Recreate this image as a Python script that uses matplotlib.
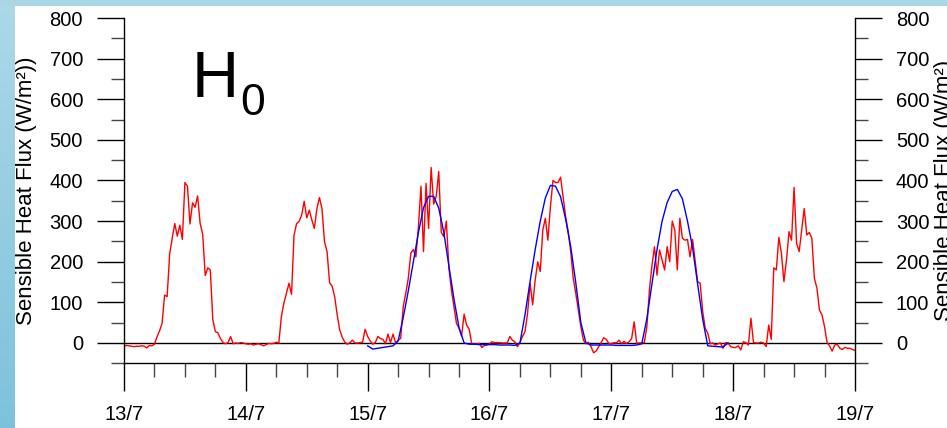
import numpy as np
import matplotlib
matplotlib.use('Agg')
import matplotlib.pyplot as plt
from matplotlib.patches import Rectangle
from matplotlib.ticker import MultipleLocator

plt.rcParams['font.family'] = ['Liberation Sans', 'DejaVu Sans']

# ---------------- data ----------------
day_labels = ['13/7', '14/7', '15/7', '16/7', '17/7', '18/7', '19/7']

# observed sensible heat flux (W/m2), half-hourly, one list per day
obs_13 = [-8, -6, -7, -8, -9, -8, -8, -7, -8, -12, -6, -7, -3, 15, 30, 48,
          118, 114, 220, 258, 294, 263, 290, 255, 395, 386, 293, 345, 334, 362, 294, 268,
          166, 185, 180, 57, 28, 25, 11, 1, -2, 1, 16, -2, 0, -1, 1, 0]
obs_14 = [-2, -3, -2, -5, -3, -2, -4, -7, -4, -1, -2, -1, 2, 0, 65, 98,
          122, 147, 120, 266, 294, 299, 315, 349, 308, 327, 303, 282, 331, 358, 331, 249,
          225, 148, 140, 114, 69, 32, 14, 2, -3, 1, 7, 0, 0, 1, 2, 34]
obs_15 = [16, 5, -3, 1, 16, 11, 9, -2, 22, 1, 22, 0, 7, 11, 89, 122,
          159, 221, 230, 212, 286, 386, 225, 393, 282, 432, 342, 360, 422, 272, 262, 300,
          185, 130, 89, 48, 36, 17, 71, 44, 34, -2, -3, -2, -1, -11, -6, -5]
obs_16 = [-2, 3, 1, 1, 1, 0, 0, 0, 16, 7, 3, -9, 1, 16, 28, 73,
          147, 94, 155, 200, 176, 278, 307, 253, 335, 400, 395, 395, 408, 360, 311, 274,
          225, 159, 122, 81, 40, 7, -2, 2, -9, -24, -20, -9, 1, 13, 9, -1]
obs_17 = [-2, 1, 0, 7, -2, 4, -1, 3, 11, 52, -1, 0, 0, 1, 40, 130,
          190, 237, 167, 229, 204, 180, 237, 200, 300, 278, 180, 307, 258, 253, 255, 212,
          255, 204, 151, 147, 77, 36, 24, -2, 0, -5, -2, 0, -13, 1, 0, -9]
obs_18 = [-11, -11, -7, -17, 3, 1, -5, 61, 1, 0, 0, 2, 0, -9, 44, 9,
          185, 180, 260, 221, 151, 204, 274, 253, 383, 245, 225, 278, 331, 266, 272, 258,
          159, 135, 81, 69, 40, 1, -7, -20, -5, -3, -13, -16, -11, -13, -13, -16]
obs_end = [-18]

# modelled sensible heat flux (W/m2), hourly, 15/7 - 17/7
mod_15 = [-7, -15, -13, -11, -9, -7, 5, 62, 128, 200, 272, 333, 361, 361, 332, 272,
          190, 108, 38, 0, -3, -3, -4, -4]
mod_16 = [-4, -4, -5, -5, -5, -6, 0, 70, 152, 230, 300, 357, 388, 386, 360, 305,
          237, 148, 50, 0, -5, -5, -5, -5]
mod_17 = [-5, -6, -6, -6, -6, -5, -2, 60, 145, 230, 300, 346, 373, 378, 355, 300,
          235, 145, 58, -7, -8, -9, -10, 0]

obs = np.array(obs_13 + obs_14 + obs_15 + obs_16 + obs_17 + obs_18 + obs_end, dtype=float)
t_obs = np.arange(len(obs)) * 0.5          # hours since 13/7 00:00
mod = np.array(mod_15 + mod_16 + mod_17, dtype=float)
t_mod = 48 + np.arange(len(mod))           # hours since 13/7 00:00

# ---------------- figure ----------------
W, H = 947, 428
fig = plt.figure(figsize=(W / 100, H / 100), dpi=100)
fig.patch.set_facecolor('white')

# decorative background strips
bg = fig.add_axes([0, 0, 1, 1], zorder=0)
g = np.linspace(0, 1, H)[:, None, None]
c_top = np.array([0.68, 0.85, 0.91])
c_bot = np.array([0.49, 0.76, 0.86])
img = c_top + (c_bot - c_top) * g
bg.imshow(img, extent=[0, 15, H, 0], aspect='auto', interpolation='bilinear')
bg.add_patch(Rectangle((0, 0), W, 6, color=(0.67, 0.84, 0.90), lw=0))
bg.set_xlim(0, W)
bg.set_ylim(H, 0)
bg.axis('off')

ax = fig.add_axes([124 / W, 1 - 363.3 / H, 731 / W, 345.3 / H], zorder=1)
ax.set_facecolor('none')
ax.set_xlim(0, 144)
ax.set_ylim(-50, 800)

ax.axhline(0, color='black', lw=1.0, zorder=1)
ax.plot(t_obs, obs, color='#ff0000', lw=1.0, zorder=2)
ax.plot(t_mod, mod, color='#0000ff', lw=1.0, zorder=3)

ax.spines['top'].set_visible(False)
for s in ['left', 'right', 'bottom']:
    ax.spines[s].set_linewidth(1.0)
    ax.spines[s].set_color('black')

ax.set_xticks(np.arange(0, 145, 24))
ax.set_xticklabels(day_labels)
ax.xaxis.set_minor_locator(MultipleLocator(6))
ax.set_yticks(np.arange(0, 801, 100))
ax.yaxis.set_minor_locator(MultipleLocator(50))

ax.tick_params(axis='x', which='major', direction='out', length=20, width=1.0,
               pad=10, labelsize=14.5, colors='black')
ax.tick_params(axis='x', which='minor', direction='out', length=10, width=1.0,
               color='#444444')
ax.tick_params(axis='y', which='both', left=True, right=True,
               labelleft=True, labelright=True)
ax.tick_params(axis='y', which='major', direction='out', length=19.5, width=1.0,
               pad=10, labelsize=14.5, colors='black')
ax.tick_params(axis='y', which='minor', direction='out', length=9.5, width=1.0,
               color='#444444')

fig.text(16 / W, 1 - 190.5 / H, 'Sensible Heat Flux (W/m\u00b2))', rotation=90,
         ha='left', va='center', fontsize=16)
fig.text(934 / W, 1 - 190.5 / H, 'Sensible Heat Flux (W/m\u00b2)', rotation=90,
         ha='left', va='center', fontsize=16)

fig.text(192 / W, 1 - 97 / H, 'H', fontsize=47, ha='left', va='baseline')
fig.text(240 / W, 1 - 115 / H, '0', fontsize=32, ha='left', va='baseline')

fig.savefig('out.png', dpi=100)
